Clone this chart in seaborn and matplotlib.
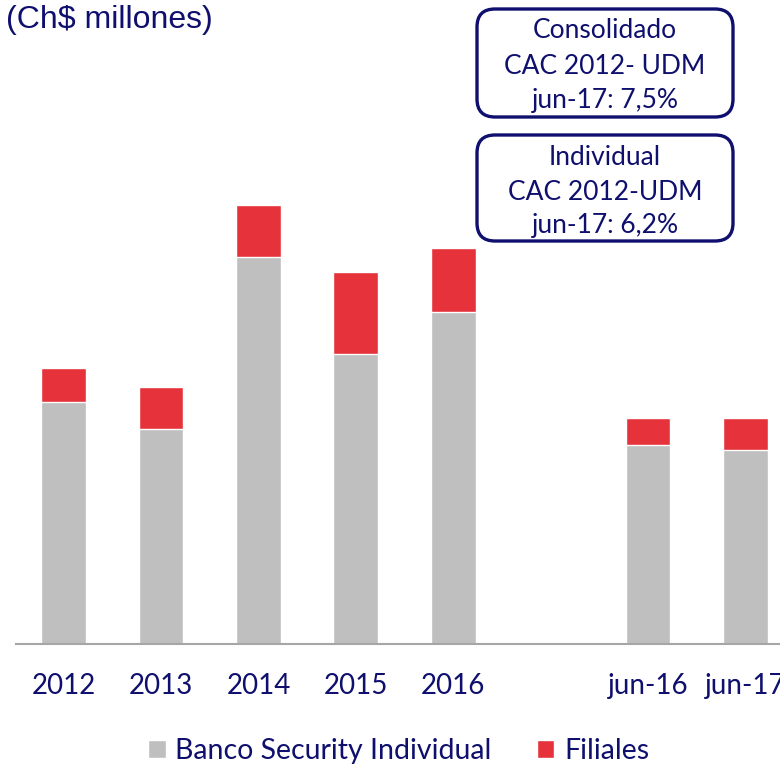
import matplotlib
matplotlib.use("Agg")
import matplotlib.pyplot as plt
from matplotlib.patches import FancyBboxPatch, Patch
import seaborn as sns
import pandas as pd

# valores (escala relativa)
periodos = ["2012", "2013", "2014", "2015", "2016", "jun-16", "jun-17"]
banco_individual = [242, 215, 387, 290, 332, 199, 194]
filiales = [34, 42, 52, 82, 64, 27, 32]
orden = ["2012", "2013", "2014", "2015", "2016", "", "jun-16", "jun-17"]

unidad = "(Ch$ millones)"
series = ["Banco Security Individual", "Filiales"]
caja_consolidado = ["Consolidado", "CAC 2012- UDM", "jun-17: 7,5%"]
caja_individual = ["Individual", "CAC 2012-UDM", "jun-17: 6,2%"]

navy = "#0f0f6e"
gris = "#bfbfbf"
rojo = "#e5323b"

df = pd.DataFrame({"periodo": periodos, "banco": banco_individual, "filiales": filiales})
df["total"] = df["banco"] + df["filiales"]

sns.set_style("white")
plt.rcParams["font.family"] = ["Lato", "DejaVu Sans"]

W, H = 780, 766
fig = plt.figure(figsize=(W / 100, H / 100), dpi=100)
ax = fig.add_axes([16 / W, (H - 644) / H, 777 / W, 644 / H])

# barras apiladas: total en rojo, luego la parte individual en gris encima
sns.barplot(data=df, x="periodo", y="total", order=orden, color=rojo, width=0.46,
            saturation=1, errorbar=None, ax=ax)
sns.barplot(data=df, x="periodo", y="banco", order=orden, color=gris, width=0.46,
            saturation=1, errorbar=None, ax=ax)

ax.set_xlim(-0.49, 7.49)
ax.set_ylim(0, 644)
ax.set_xlabel("")
ax.set_ylabel("")
ax.set_yticks([])
ax.set_xticks(range(len(orden)))
ax.set_xticklabels(orden)
ax.tick_params(axis="x", length=0, pad=21, labelsize=20, labelcolor=navy)
for s in ["top", "left", "right"]:
    ax.spines[s].set_visible(False)
ax.spines["bottom"].set_color("#a6a6a6")
ax.spines["bottom"].set_linewidth(1.5)

handles = [Patch(facecolor=gris), Patch(facecolor=rojo)]
fig.legend(handles, series, loc="center", bbox_to_anchor=(399 / W, 1 - 751 / H), ncol=2,
           frameon=False, fontsize=20.5, handlelength=0.6, handleheight=0.6,
           handletextpad=0.35, columnspacing=1.6, labelcolor=navy)

fig.text(6 / W, 1 - 28 / H, unidad, family=["Liberation Sans", "DejaVu Sans"],
         fontsize=23, color=navy, va="baseline")

cajas = [(9, 117, caja_consolidado, [38.5, 74, 108]),
         (135, 241, caja_individual, [165, 199.5, 233.5])]
for y0, y1, lineas, bases in cajas:
    box = FancyBboxPatch((477 / 100, (H - y1) / 100), 256 / 100, (y1 - y0) / 100,
                         boxstyle="round,pad=0,rounding_size=0.18",
                         transform=fig.dpi_scale_trans, fc="white", ec=navy, lw=2.4)
    fig.add_artist(box)
    for txt, b in zip(lineas, bases):
        fig.text(605 / W, 1 - b / H, txt, ha="center", va="baseline", color=navy, fontsize=19)

fig.savefig("out.png", dpi=100)
